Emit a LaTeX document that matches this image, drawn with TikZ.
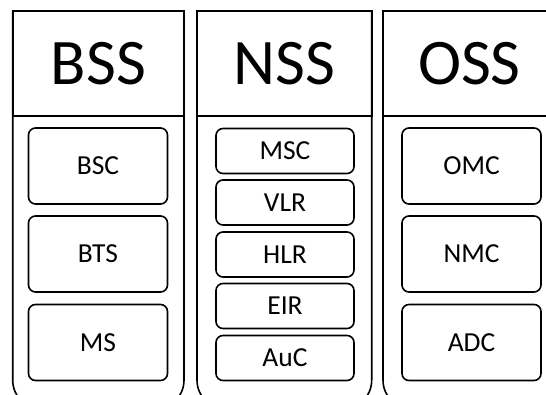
\documentclass[tikz,border=0pt]{standalone}
\usepackage{fontspec}
\setmainfont{Carlito}
\usetikzlibrary{positioning}

\tikzset{
  head/.style={draw, line width=1.6pt, minimum height=104.7pt, inner sep=0pt, outer sep=0pt, font=\fontsize{65}{78}\selectfont},
  unit/.style={draw, line width=1.6pt, rounded corners=7pt, minimum width=139pt, inner sep=0pt, font=\fontsize{27.5}{33}\selectfont},
  tallunit/.style={unit, minimum height=76pt},
  flatunit/.style={unit, minimum height=45pt},
  body/.style={line width=1.6pt, rounded corners=30pt},
}

\begin{document}
\begin{tikzpicture}[x=1pt, y=-1pt]
			%%%%% FRAME %%%%%
			\useasboundingbox (0,0) rectangle (546,394);
			\clip (0,0) rectangle (546,394);
			\coordinate (floor) at (0,410);
			
			%%%%% HEADERS %%%%%
			\node[head, minimum width=171.3pt] (bss) at (98.35,63.35) {BSS};
			\node[head, minimum width=174.7pt] (nss) at (284.35,63.35) {NSS};
			\node[head, minimum width=173pt] (oss) at (469.5,63.35) {OSS};
			
			\draw[body] (bss.north east) -- (bss.east |- floor) -- (bss.west |- floor) -- (bss.north west);
			\draw[body] (nss.north east) -- (nss.east |- floor) -- (nss.west |- floor) -- (nss.north west);
			\draw[body] (oss.north east) -- (oss.east |- floor) -- (oss.west |- floor) -- (oss.north west);
			
			%%%%% BSS %%%%%
			\node[tallunit] (bsc) at (98,166) {BSC};
			\node[tallunit] (bts) at (98,254) {BTS};
			\node[tallunit] (ms) at (98,342.5) {MS};
			
			%%%%% NSS %%%%%
			\node[flatunit, minimum width=138pt] (msc) at (285,151) {MSC};
			\node[flatunit, minimum width=138pt] (vlr) at (285,202.5) {VLR};
			\node[flatunit, minimum width=138pt] (hlr) at (285,254.5) {HLR};
			\node[flatunit, minimum width=138pt] (eir) at (285,306) {EIR};
			\node[flatunit, minimum width=138pt] (auc) at (285,358) {AuC};
			
			%%%%% OSS %%%%%
			\node[tallunit] (omc) at (471.5,166) {OMC};
			\node[tallunit] (nmc) at (471.5,254) {NMC};
			\node[tallunit] (adc) at (471.5,342.5) {ADC};
		\end{tikzpicture}
\end{document}
